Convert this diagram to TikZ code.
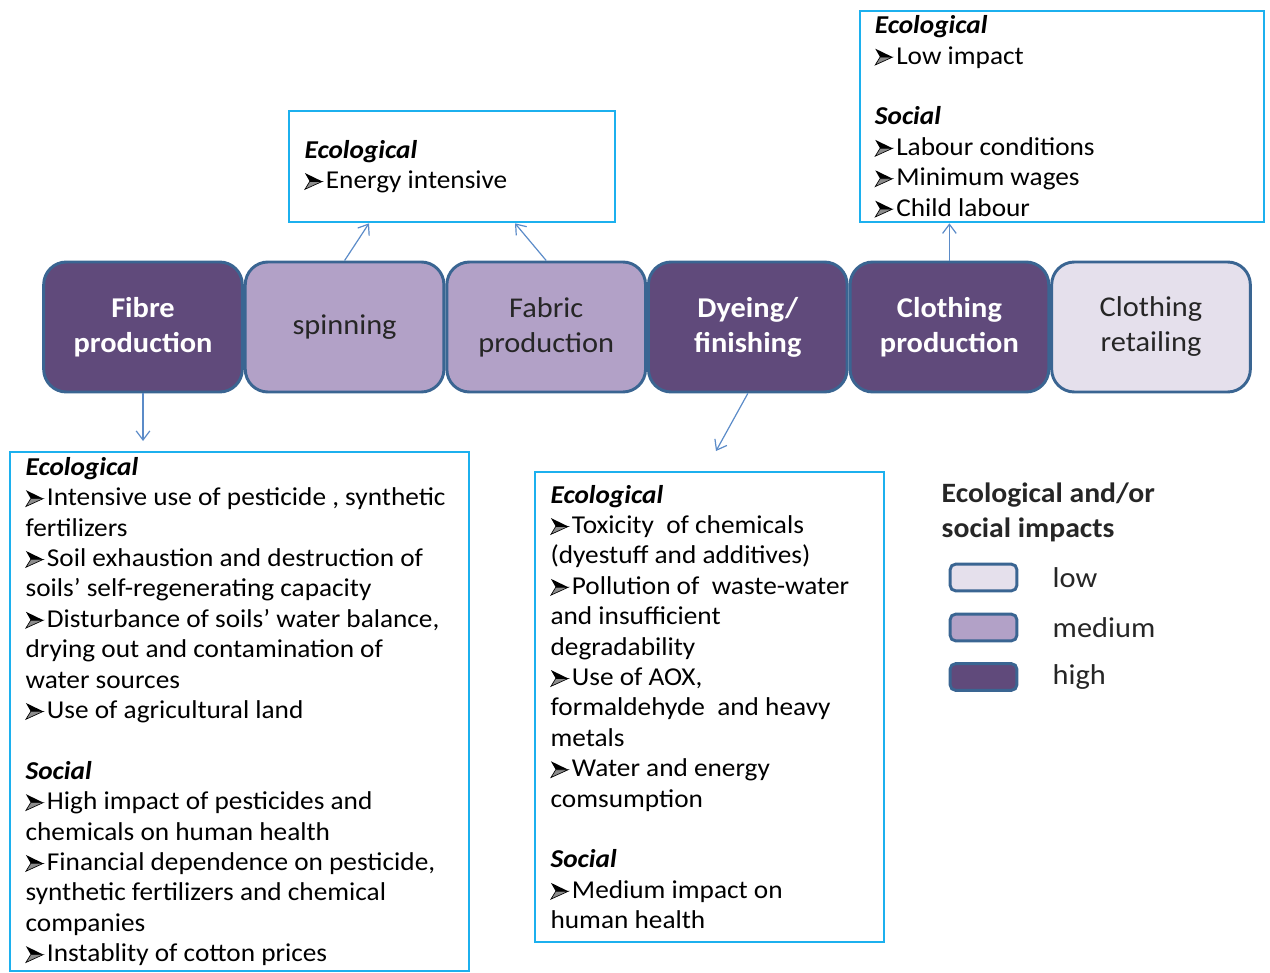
\documentclass[tikz,border=0pt]{standalone}
\usepackage{fontspec}
\setmainfont{Carlito}[FakeStretch=1.06]
\usetikzlibrary{arrows.meta,positioning,calc}
\definecolor{imphigh}{HTML}{604A7B}
\definecolor{impmed}{HTML}{B2A1C7}
\definecolor{implow}{HTML}{E5E0EC}
\definecolor{stageline}{HTML}{3A6592}
\definecolor{callcyan}{HTML}{1CB0EE}
\definecolor{arrblue}{HTML}{5B8BC8}
% wingdings-like arrowhead bullet
\newcommand{\bul}{\tikz[x=1pt,y=1pt,baseline=0pt]{%
  \filldraw[black,line width=0.5pt,fill=black!45] (0,-0.6) -- (13,5.3) -- (3.6,5.3) -- cycle;
  \fill[black] (0,11.6) -- (13,5.3) -- (3.6,5.3) -- cycle;}\hspace{2.5pt}}
\newcommand{\head}[1]{\textbf{\textit{#1}}}

\begin{document}
\begin{tikzpicture}[x=0.75pt,y=-0.75pt,
  stage/.style={draw=stageline,line width=2.2pt,rounded corners=17pt,
    minimum width=149pt,minimum height=97.5pt,align=center,inner sep=2pt,
    font=\fontsize{21.5}{26.25}\selectfont},
  hi/.style={stage,fill=imphigh,text=white,font=\fontsize{21.5}{26.25}\selectfont\bfseries},
  mid/.style={stage,fill=impmed,text=black!85},
  lo/.style={stage,fill=implow,text=black!85},
  callout/.style={draw=callcyan,line width=2pt,fill=white},
  calltext/.style={anchor=west,align=left,inner sep=0pt,
    font=\fontsize{19.3}{22.8}\selectfont},
  arr/.style={-{Straight Barb[length=2.4mm,width=3.6mm]},arrblue,line width=0.9pt},
  key/.style={draw=stageline,line width=2.2pt,rounded corners=4pt,
    minimum width=50pt,minimum height=20pt},
  keylab/.style={anchor=west,font=\fontsize{21.5}{26.25}\selectfont,text=black!85}]
\useasboundingbox (0,0) rectangle (1270,973);

% value chain
\node[hi] (fibre) at (143,327) {Fibre\\production};
\node[mid,right=0pt of fibre] (spin) {spinning};
\node[mid,right=0pt of spin] (fabric) {Fabric\\production};
\node[hi,right=0pt of fabric] (dye) {Dyeing/\\finishing};
\node[hi,right=0pt of dye] (cloth) {Clothing\\production};
\node[lo,right=0pt of cloth] (retail) {Clothing\\retailing};

% impact boxes
\node[callout,minimum width=244.5pt,minimum height=83.25pt] (ecoA) at (452,166.5) {};
\node[callout,minimum width=303pt,minimum height=158.25pt] (ecoB) at (1062,116.5) {};
\node[callout,minimum width=344.25pt,minimum height=389.25pt] (ecoC) at (239.5,711.5) {};
\node[callout,minimum width=261.75pt,minimum height=352.5pt] (ecoD) at (709.5,707) {};

\node[calltext] (txtA) at ([xshift=12.5pt]ecoA.west)
  {\head{Ecological}\\\bul Energy intensive};
\node[calltext] (txtB) at ([xshift=12pt]ecoB.west)
  {\head{Ecological}\\\bul Low impact\\[22.8pt]
   \head{Social}\\\bul Labour conditions\\\bul Minimum wages\\\bul Child labour};
\node[calltext] (txtC) at ([xshift=12.5pt]ecoC.west)
  {\head{Ecological}\\
   \bul Intensive use of pesticide , synthetic\\fertilizers\\
   \bul Soil exhaustion and destruction of\\soils’ self-regenerating capacity\\
   \bul Disturbance of soils’ water balance,\\drying out and contamination of\\water sources\\
   \bul Use of agricultural land\\[22.8pt]
   \head{Social}\\
   \bul High impact of pesticides and\\chemicals on human health\\
   \bul Financial dependence on pesticide,\\synthetic fertilizers and chemical\\companies\\
   \bul Instablity of cotton prices};
\node[calltext] (txtD) at ([xshift=12.5pt]ecoD.west)
  {\head{Ecological}\\
   \bul Toxicity \ of chemicals\\(dyestuff and additives)\\
   \bul Pollution of \ waste-water\\and insufficient\\degradability\\
   \bul Use of AOX,\\formaldehyde \ and heavy\\metals\\
   \bul Water and energy\\comsumption\\[22.8pt]
   \head{Social}\\
   \bul Medium impact on\\human health};

% connectors
\coordinate (fibreend) at (143,441);
\coordinate (dyeend) at (716,451);
\draw[arr] (fibre.south) -- (fibreend);
\draw[arr] (spin.north) -- ($(ecoA.south)+(-83,0)$);
\draw[arr] (fabric.north) -- ($(ecoA.south)+(63,0)$);
\draw[arr] (cloth.north) -- (cloth.north |- ecoB.south);
\draw[arr] (dye.south) -- (dyeend);

% legend
\node[anchor=north west,align=left,text=black!85,
  font=\fontsize{21}{26.25}\selectfont\bfseries] (keytitle) at (937,478)
  {Ecological and/or\\social impacts};
\node[key,fill=implow] (klow) at (983.5,577.5) {};
\node[key,fill=impmed] (kmed) at (983.5,627.5) {};
\node[key,fill=imphigh] (khigh) at (983.5,677) {};
\node[keylab] (llow) at (1048,577.5) {low};
\node[keylab] (lmed) at (1048,627.5) {medium};
\node[keylab] (lhigh) at (1048,677) {high};
\end{tikzpicture}
\end{document}
